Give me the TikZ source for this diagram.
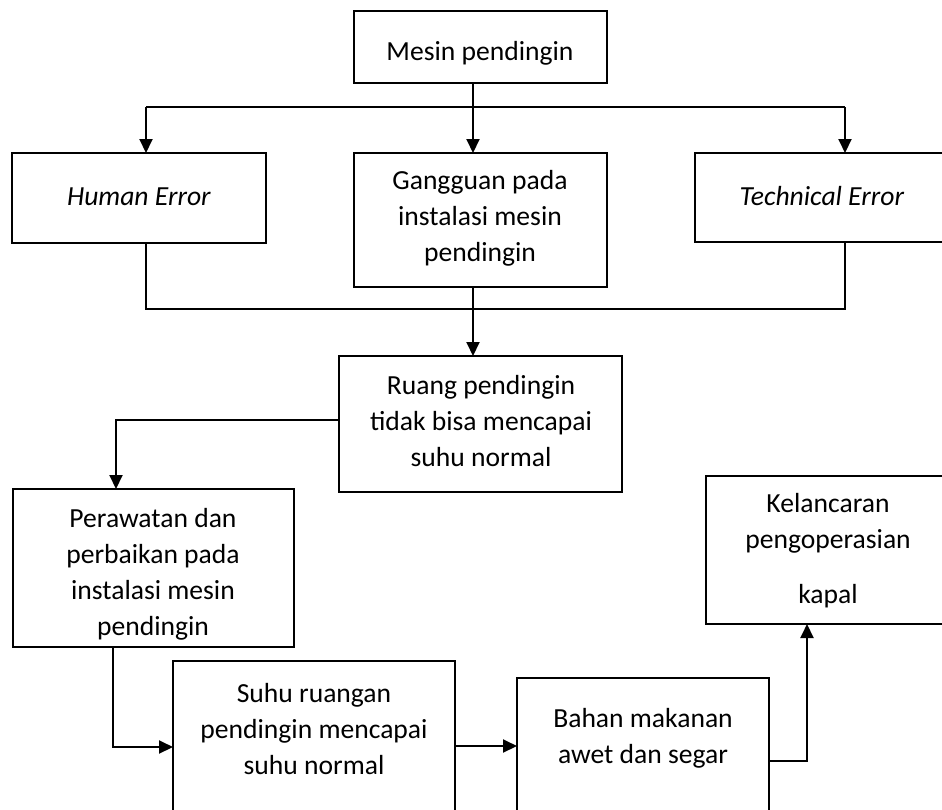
\documentclass[tikz,border=0pt]{standalone}
\usepackage{fontspec}
\setmainfont{Carlito}
\usetikzlibrary{arrows.meta}
\begin{document}
\begin{tikzpicture}[x=1pt,y=-1pt,
  box/.style={draw, line width=2pt, inner sep=0pt, outer sep=0pt},
  txt/.style={align=center, inner sep=0pt, font=\fontsize{27.6}{36}\selectfont},
  con/.style={line width=2pt},
  arr/.style={line width=2pt, -{Triangle[length=14pt,width=13pt]}}]
\useasboundingbox (0,0) rectangle (942,809);
\clip (0,0) rectangle (942,809);
\fill[white] (0,0) rectangle (942,809);
% boxes
\node[box, minimum width=253pt, minimum height=72pt] (mesin) at (480.5,47) {};
\node[box, minimum width=254pt, minimum height=90pt] (human) at (139,198) {};
\node[box, minimum width=253pt, minimum height=134pt] (gang) at (480.5,220) {};
\node[box, minimum width=255pt, minimum height=89pt] (tech) at (822.5,197.5) {};
\node[box, minimum width=283pt, minimum height=136pt] (ruang) at (480.5,424) {};
\node[box, minimum width=281pt, minimum height=158pt] (peraw) at (153.5,568) {};
\node[box, minimum width=244pt, minimum height=148pt] (kel) at (828,550) {};
\node[box, minimum width=282pt, minimum height=179pt] (suhu) at (314,750.5) {};
\node[box, minimum width=252pt, minimum height=162pt] (bahan) at (643,759) {};
% texts
\node[txt] (mesinT) at (480,53) {Mesin pendingin};
\node[txt] (humanT) at (139,197) {\textit{Human Error}};
\node[txt] (gangT) at (480,218) {Gangguan pada\\instalasi mesin\\pendingin};
\node[txt] (techT) at (822,196) {\textit{Technical Error}};
\node[txt] (ruangT) at (481,421) {Ruang pendingin\\tidak bisa mencapai\\suhu normal};
\node[txt] (perawT) at (153,574) {Perawatan dan\\perbaikan pada\\instalasi mesin\\pendingin};
\node[txt] (kelT) at (828,551) {Kelancaran\\pengoperasian\\[19pt]kapal};
\node[txt] (suhuT) at (314,729) {Suhu ruangan\\pendingin mencapai\\suhu normal};
\node[txt] (bahanT) at (643,738) {Bahan makanan\\awet dan segar};
% bus coordinates
\coordinate (j1) at (473,107);
\coordinate (bl) at (146,107);
\coordinate (br) at (845,107);
\coordinate (j2) at (473,309);
\coordinate (bl2) at (146,309);
\coordinate (br2) at (845,309);
\coordinate (c3) at (116,420);
\coordinate (c4) at (113,747);
\coordinate (c5) at (0,746);
\coordinate (c6) at (807,761);
% connectors
\draw[con] (mesin.south -| j1) -- (j1);
\draw[con] (bl) -- (br);
\draw[arr] (bl) -- (bl |- human.north);
\draw[arr] (j1) -- (j1 |- gang.north);
\draw[arr] (br) -- (br |- tech.north);
\draw[con] (bl2 |- human.south) -- (bl2) -- (br2) -- (br2 |- tech.south);
\draw[con] (j2 |- gang.south) -- (j2);
\draw[arr] (j2) -- (j2 |- ruang.north);
\draw[arr] (ruang.west |- c3) -- (c3) -- (c3 |- peraw.north);
\draw[arr] (c4 |- peraw.south) -- (c4) -- (suhu.west |- c4);
\draw[arr] (suhu.east |- c5) -- (bahan.west |- c5);
\draw[arr] (bahan.east |- c6) -- (c6) -- (c6 |- kel.south);
\end{tikzpicture}
\end{document}
